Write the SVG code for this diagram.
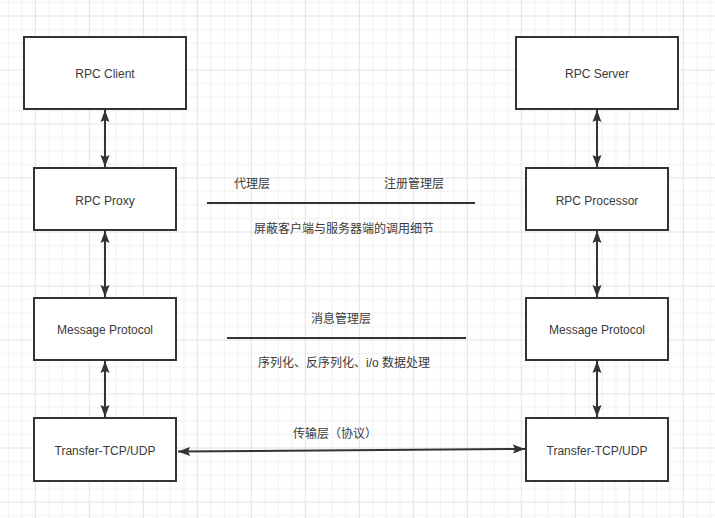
<svg xmlns="http://www.w3.org/2000/svg" width="715" height="518" viewBox="0 0 715 518">
  <defs>
    <pattern id="grid" patternUnits="userSpaceOnUse" x="34.8" y="15.5" width="54" height="54">
      <rect x="0" y="0" width="54" height="54" fill="#ffffff"/>
      <g fill="#f0f0f0">
        <rect x="13.5" y="0" width="1" height="54"/>
        <rect x="27" y="0" width="1" height="54"/>
        <rect x="40.5" y="0" width="1" height="54"/>
        <rect x="0" y="13.5" width="54" height="1"/>
        <rect x="0" y="27" width="54" height="1"/>
        <rect x="0" y="40.5" width="54" height="1"/>
      </g>
      <g fill="#e3e3e3">
        <rect x="0" y="0" width="1" height="54"/>
        <rect x="0" y="0" width="54" height="1"/>
      </g>
    </pattern>
    <marker id="arrow" markerUnits="userSpaceOnUse" markerWidth="13" markerHeight="10" refX="12" refY="5" orient="auto-start-reverse">
      <path d="M0,0.5 L12,5 L0,9.5 L2,5 z" fill="#333333"/>
    </marker>
  </defs>
  <style>
    .box { fill: #ffffff; stroke: #333333; stroke-width: 2; }
    .lbl { font-family: "Liberation Sans", "Noto Sans CJK SC", sans-serif; font-size: 12px; fill: #3a3a3a; text-anchor: middle; dominant-baseline: central; }
    .conn { stroke: #333333; stroke-width: 2; fill: none; }
    .sep { stroke: #333333; stroke-width: 2; }
  </style>
  <rect x="0" y="0" width="715" height="518" fill="url(#grid)"/>

  <g id="rpc-client">
    <rect class="box" x="24" y="37" width="162" height="72"/>
    <text class="lbl" x="105" y="74">RPC Client</text>
  </g>
  <g id="rpc-proxy">
    <rect class="box" x="34" y="168" width="142" height="62"/>
    <text class="lbl" x="105" y="201">RPC Proxy</text>
  </g>
  <g id="message-protocol-left">
    <rect class="box" x="34" y="298" width="142" height="62"/>
    <text class="lbl" x="105" y="330">Message Protocol</text>
  </g>
  <g id="transfer-left">
    <rect class="box" x="34" y="418" width="142" height="63"/>
    <text class="lbl" x="105" y="450.5">Transfer-TCP/UDP</text>
  </g>

  <g id="rpc-server">
    <rect class="box" x="516" y="37" width="162" height="72"/>
    <text class="lbl" x="597" y="74">RPC Server</text>
  </g>
  <g id="rpc-processor">
    <rect class="box" x="526" y="168" width="142" height="62"/>
    <text class="lbl" x="597" y="201">RPC Processor</text>
  </g>
  <g id="message-protocol-right">
    <rect class="box" x="526" y="298" width="142" height="62"/>
    <text class="lbl" x="597" y="330">Message Protocol</text>
  </g>
  <g id="transfer-right">
    <rect class="box" x="526" y="418" width="142" height="63"/>
    <text class="lbl" x="597" y="450.5">Transfer-TCP/UDP</text>
  </g>

  <g id="layer-notes">
    <text class="lbl" x="252" y="184">代理层</text>
    <text class="lbl" x="414" y="184">注册管理层</text>
    <line class="sep" x1="207" y1="203" x2="475" y2="203"/>
    <text class="lbl" x="344" y="228.5">屏蔽客户端与服务器端的调用细节</text>
    <text class="lbl" x="341" y="318.5">消息管理层</text>
    <line class="sep" x1="227" y1="338" x2="466" y2="338"/>
    <text class="lbl" x="344" y="363">序列化、反序列化、i/o 数据处理</text>
  </g>

  <g id="connectors">
    <line class="conn" x1="105" y1="110" x2="105" y2="167" marker-start="url(#arrow)" marker-end="url(#arrow)"/>
    <line class="conn" x1="105" y1="231" x2="105" y2="297" marker-start="url(#arrow)" marker-end="url(#arrow)"/>
    <line class="conn" x1="105" y1="361" x2="105" y2="417" marker-start="url(#arrow)" marker-end="url(#arrow)"/>
    <line class="conn" x1="597" y1="110" x2="597" y2="167" marker-start="url(#arrow)" marker-end="url(#arrow)"/>
    <line class="conn" x1="597" y1="231" x2="597" y2="297" marker-start="url(#arrow)" marker-end="url(#arrow)"/>
    <line class="conn" x1="597" y1="361" x2="597" y2="417" marker-start="url(#arrow)" marker-end="url(#arrow)"/>
    <line class="conn" x1="178" y1="451.5" x2="525" y2="449" marker-start="url(#arrow)" marker-end="url(#arrow)"/>
    <text class="lbl" x="335" y="433.5">传输层（协议）</text>
  </g>
</svg>
